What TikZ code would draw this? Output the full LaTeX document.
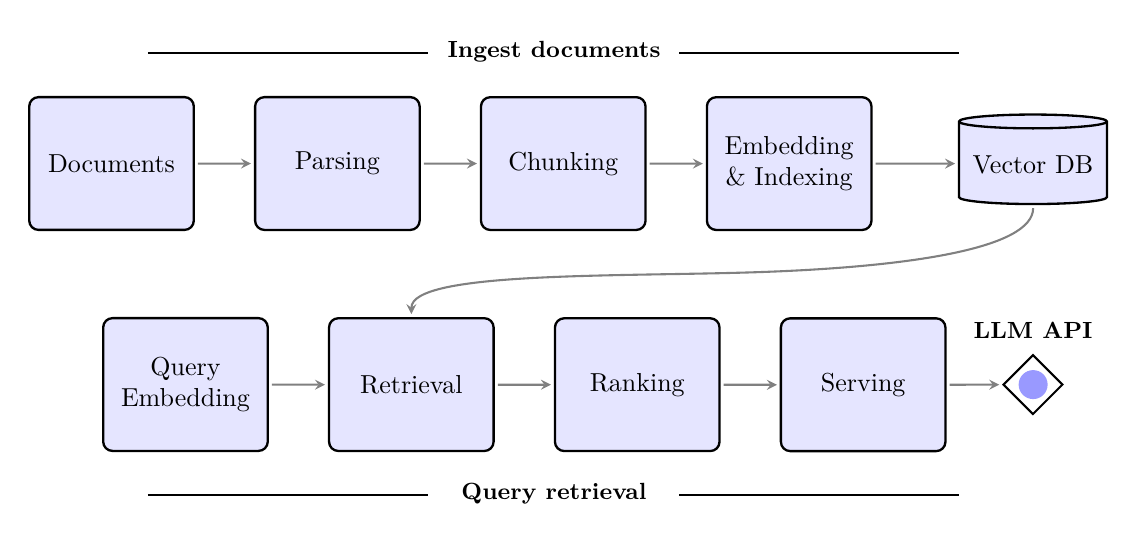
\documentclass[tikz,border=0pt]{standalone}
\usepackage{xcolor}
\usetikzlibrary{positioning,shapes.geometric}

\begin{document}
\begin{tikzpicture}[x=1.014cm,y=-1.014cm,scale=1.12,every node/.append style={transform shape},
	stagebox/.style={draw=black,line width=1pt,fill=blue!10,rounded corners=4pt,minimum width=2.225cm,minimum height=1.795cm,align=center},
	dbnode/.style={draw=black,line width=1pt,fill=blue!10,cylinder,shape border rotate=90,aspect=0.1,minimum width=2cm,minimum height=1.21cm},
	flow/.style={draw=gray,line width=0.9pt,-stealth,shorten <=1.2pt,shorten >=1.2pt},
	rule/.style={draw=black,line width=0.9pt},
	band/.style={font=\small\bfseries}]
	\useasboundingbox (0,0) rectangle (15.267,7.213);
	% ingest row
	\node[stagebox] (docs) at (1.487,2.18) {Documents};
	\node[stagebox,right=0.793cm of docs] (parsing) {Parsing};
	\node[stagebox,right=0.793cm of parsing] (chunking) {Chunking};
	\node[stagebox,right=0.793cm of chunking] (embedding) {Embedding\\\& Indexing};
	\node[dbnode] (vectordb) at (13.773,2.2) {Vector DB};
	% query row
	\node[stagebox] (queryemb) at (2.473,5.127) {Query\\Embedding};
	\node[stagebox,right=0.793cm of queryemb] (retrieval) {Retrieval};
	\node[stagebox,right=0.793cm of retrieval] (ranking) {Ranking};
	\node[stagebox,right=0.793cm of ranking] (serving) {Serving};
	\node[draw=black,line width=0.9pt,diamond,minimum width=0.81cm,minimum height=0.81cm,inner sep=0pt] (llm) at (13.773,5.127) {};
	\node[circle,fill=blue!40,minimum size=0.392cm,inner sep=0pt] (llmdot) at (llm) {};
	\node[band,above=0.08cm of llm] (llmlabel) {LLM API};
	% headings
	\node[band] (ingest) at (7.387,0.693) {Ingest documents};
	\node[band] (query) at (7.387,6.587) {Query retrieval};
	\coordinate (ingestl) at (1.973,0.707);
	\coordinate (ingestla) at (5.707,0.707);
	\coordinate (ingestra) at (9.053,0.707);
	\coordinate (ingestr) at (12.787,0.707);
	\coordinate (queryl) at (1.973,6.6);
	\coordinate (queryla) at (5.707,6.6);
	\coordinate (queryra) at (9.053,6.6);
	\coordinate (queryr) at (12.787,6.6);
	\draw[rule] (ingestl) -- (ingestla) (ingestra) -- (ingestr);
	\draw[rule] (queryl) -- (queryla) (queryra) -- (queryr);
	% connectors
	\draw[flow] (docs) -- (parsing);
	\draw[flow] (parsing) -- (chunking);
	\draw[flow] (chunking) -- (embedding);
	\draw[flow] (embedding) -- (embedding -| vectordb.west);
	\draw[flow] (queryemb) -- (retrieval);
	\draw[flow] (retrieval) -- (ranking);
	\draw[flow] (ranking) -- (serving);
	\draw[flow] (serving) -- (llm);
	\coordinate (bendmid) at (10.133,3.627);
	\draw[flow] (vectordb.south) .. controls +(0,0.573) and +(2,-0.07) .. (bendmid)
		.. controls +(-1.867,0.065) and +(0,-0.613) .. (retrieval.north);
\end{tikzpicture}
\end{document}
